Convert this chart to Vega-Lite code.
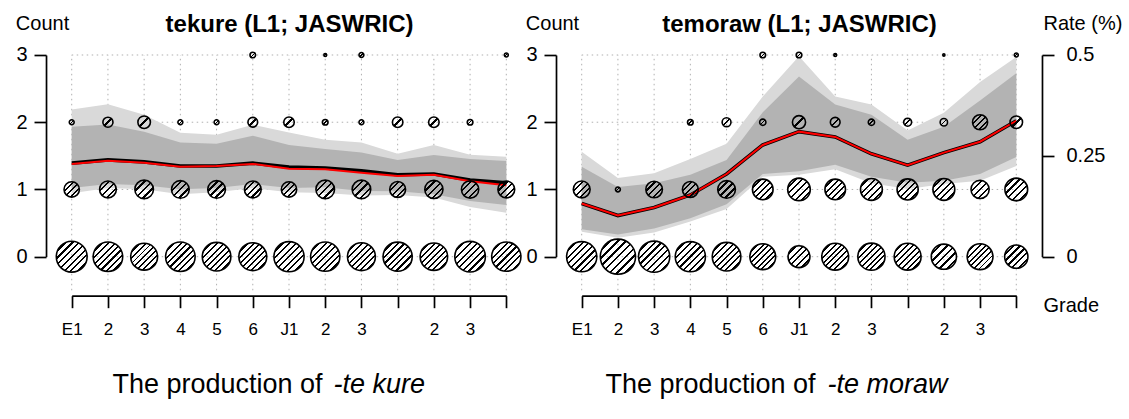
{
  "$schema": "https://vega.github.io/schema/vega-lite/v6.json",
  "background": "white",
  "padding": {"left": 15, "top": 13, "right": 5, "bottom": 8},
  "autosize": {"type": "pad"},
  "spacing": 24,
  "bounds": "flush",
  "config": {
    "view": {"stroke": null},
    "font": "Liberation Sans",
    "axis": {"grid": false, "labelFont": "Liberation Sans", "titleFont": "Liberation Sans", "labelColor": "black", "titleColor": "black", "domainColor": "black", "tickColor": "black"}
  },
  "datasets": {
    "grades": [{"grade": 1}, {"grade": 2}, {"grade": 3}, {"grade": 4}, {"grade": 5}, {"grade": 6}, {"grade": 7}, {"grade": 8}, {"grade": 9}, {"grade": 10}, {"grade": 11}, {"grade": 12}, {"grade": 13}],
    "counts": [{"count": 0}, {"count": 1}, {"count": 2}, {"count": 3}],
    "bubbles": [
      {"panel": "tekure", "grade": 1, "count": 0, "n": 121}, {"panel": "tekure", "grade": 1, "count": 1, "n": 30}, {"panel": "tekure", "grade": 1, "count": 2, "n": 3},
      {"panel": "tekure", "grade": 2, "count": 0, "n": 111}, {"panel": "tekure", "grade": 2, "count": 1, "n": 36}, {"panel": "tekure", "grade": 2, "count": 2, "n": 13},
      {"panel": "tekure", "grade": 3, "count": 0, "n": 92}, {"panel": "tekure", "grade": 3, "count": 1, "n": 44}, {"panel": "tekure", "grade": 3, "count": 2, "n": 20},
      {"panel": "tekure", "grade": 4, "count": 0, "n": 111}, {"panel": "tekure", "grade": 4, "count": 1, "n": 40}, {"panel": "tekure", "grade": 4, "count": 2, "n": 3},
      {"panel": "tekure", "grade": 5, "count": 0, "n": 104}, {"panel": "tekure", "grade": 5, "count": 1, "n": 40}, {"panel": "tekure", "grade": 5, "count": 2, "n": 3},
      {"panel": "tekure", "grade": 6, "count": 0, "n": 99}, {"panel": "tekure", "grade": 6, "count": 1, "n": 36}, {"panel": "tekure", "grade": 6, "count": 2, "n": 12}, {"panel": "tekure", "grade": 6, "count": 3, "n": 4},
      {"panel": "tekure", "grade": 7, "count": 0, "n": 116}, {"panel": "tekure", "grade": 7, "count": 1, "n": 30}, {"panel": "tekure", "grade": 7, "count": 2, "n": 14},
      {"panel": "tekure", "grade": 8, "count": 0, "n": 109}, {"panel": "tekure", "grade": 8, "count": 1, "n": 44}, {"panel": "tekure", "grade": 8, "count": 2, "n": 4}, {"panel": "tekure", "grade": 8, "count": 3, "n": 1},
      {"panel": "tekure", "grade": 9, "count": 0, "n": 99}, {"panel": "tekure", "grade": 9, "count": 1, "n": 44}, {"panel": "tekure", "grade": 9, "count": 2, "n": 3}, {"panel": "tekure", "grade": 9, "count": 3, "n": 3},
      {"panel": "tekure", "grade": 10, "count": 0, "n": 108}, {"panel": "tekure", "grade": 10, "count": 1, "n": 32}, {"panel": "tekure", "grade": 10, "count": 2, "n": 14},
      {"panel": "tekure", "grade": 11, "count": 0, "n": 96}, {"panel": "tekure", "grade": 11, "count": 1, "n": 42}, {"panel": "tekure", "grade": 11, "count": 2, "n": 14},
      {"panel": "tekure", "grade": 12, "count": 0, "n": 119}, {"panel": "tekure", "grade": 12, "count": 1, "n": 38}, {"panel": "tekure", "grade": 12, "count": 2, "n": 4},
      {"panel": "tekure", "grade": 13, "count": 0, "n": 109}, {"panel": "tekure", "grade": 13, "count": 1, "n": 36}, {"panel": "tekure", "grade": 13, "count": 3, "n": 2},
      {"panel": "temoraw", "grade": 1, "count": 0, "n": 116}, {"panel": "temoraw", "grade": 1, "count": 1, "n": 36},
      {"panel": "temoraw", "grade": 2, "count": 0, "n": 158}, {"panel": "temoraw", "grade": 2, "count": 1, "n": 3},
      {"panel": "temoraw", "grade": 3, "count": 0, "n": 124}, {"panel": "temoraw", "grade": 3, "count": 1, "n": 35},
      {"panel": "temoraw", "grade": 4, "count": 0, "n": 116}, {"panel": "temoraw", "grade": 4, "count": 1, "n": 32}, {"panel": "temoraw", "grade": 4, "count": 2, "n": 4},
      {"panel": "temoraw", "grade": 5, "count": 0, "n": 104}, {"panel": "temoraw", "grade": 5, "count": 1, "n": 40}, {"panel": "temoraw", "grade": 5, "count": 2, "n": 10},
      {"panel": "temoraw", "grade": 6, "count": 0, "n": 85}, {"panel": "temoraw", "grade": 6, "count": 1, "n": 54}, {"panel": "temoraw", "grade": 6, "count": 2, "n": 5}, {"panel": "temoraw", "grade": 6, "count": 3, "n": 4},
      {"panel": "temoraw", "grade": 7, "count": 0, "n": 61}, {"panel": "temoraw", "grade": 7, "count": 1, "n": 65}, {"panel": "temoraw", "grade": 7, "count": 2, "n": 22}, {"panel": "temoraw", "grade": 7, "count": 3, "n": 4},
      {"panel": "temoraw", "grade": 8, "count": 0, "n": 92}, {"panel": "temoraw", "grade": 8, "count": 1, "n": 54}, {"panel": "temoraw", "grade": 8, "count": 2, "n": 12}, {"panel": "temoraw", "grade": 8, "count": 3, "n": 1},
      {"panel": "temoraw", "grade": 9, "count": 0, "n": 94}, {"panel": "temoraw", "grade": 9, "count": 1, "n": 61}, {"panel": "temoraw", "grade": 9, "count": 2, "n": 5},
      {"panel": "temoraw", "grade": 10, "count": 0, "n": 92}, {"panel": "temoraw", "grade": 10, "count": 1, "n": 57}, {"panel": "temoraw", "grade": 10, "count": 2, "n": 8},
      {"panel": "temoraw", "grade": 11, "count": 0, "n": 81}, {"panel": "temoraw", "grade": 11, "count": 1, "n": 61}, {"panel": "temoraw", "grade": 11, "count": 2, "n": 7}, {"panel": "temoraw", "grade": 11, "count": 3, "n": 0.6},
      {"panel": "temoraw", "grade": 12, "count": 0, "n": 85}, {"panel": "temoraw", "grade": 12, "count": 1, "n": 42}, {"panel": "temoraw", "grade": 12, "count": 2, "n": 29},
      {"panel": "temoraw", "grade": 13, "count": 0, "n": 69}, {"panel": "temoraw", "grade": 13, "count": 1, "n": 66}, {"panel": "temoraw", "grade": 13, "count": 2, "n": 20}, {"panel": "temoraw", "grade": 13, "count": 3, "n": 2}
    ],
    "rates": [
      {"panel": "tekure", "grade": 1, "lu": 0.365, "du": 0.322, "dl": 0.170, "ll": 0.157, "black": 0.232, "red": 0.230},
      {"panel": "tekure", "grade": 2, "lu": 0.378, "du": 0.328, "dl": 0.180, "ll": 0.170, "black": 0.240, "red": 0.238},
      {"panel": "tekure", "grade": 3, "lu": 0.352, "du": 0.310, "dl": 0.177, "ll": 0.167, "black": 0.235, "red": 0.233},
      {"panel": "tekure", "grade": 4, "lu": 0.307, "du": 0.283, "dl": 0.167, "ll": 0.155, "black": 0.225, "red": 0.223},
      {"panel": "tekure", "grade": 5, "lu": 0.302, "du": 0.280, "dl": 0.170, "ll": 0.160, "black": 0.225, "red": 0.225},
      {"panel": "tekure", "grade": 6, "lu": 0.327, "du": 0.300, "dl": 0.180, "ll": 0.170, "black": 0.232, "red": 0.230},
      {"panel": "tekure", "grade": 7, "lu": 0.308, "du": 0.277, "dl": 0.170, "ll": 0.160, "black": 0.222, "red": 0.218},
      {"panel": "tekure", "grade": 8, "lu": 0.290, "du": 0.267, "dl": 0.172, "ll": 0.158, "black": 0.220, "red": 0.217},
      {"panel": "tekure", "grade": 9, "lu": 0.283, "du": 0.258, "dl": 0.163, "ll": 0.152, "black": 0.213, "red": 0.208},
      {"panel": "tekure", "grade": 10, "lu": 0.255, "du": 0.240, "dl": 0.162, "ll": 0.153, "black": 0.203, "red": 0.200},
      {"panel": "tekure", "grade": 11, "lu": 0.277, "du": 0.252, "dl": 0.155, "ll": 0.147, "black": 0.205, "red": 0.203},
      {"panel": "tekure", "grade": 12, "lu": 0.253, "du": 0.242, "dl": 0.138, "ll": 0.123, "black": 0.190, "red": 0.187},
      {"panel": "tekure", "grade": 13, "lu": 0.248, "du": 0.237, "dl": 0.128, "ll": 0.109, "black": 0.183, "red": 0.177},
      {"panel": "temoraw", "grade": 1, "lu": 0.260, "du": 0.223, "dl": 0.068, "ll": 0.062, "black": 0.132, "red": 0.132},
      {"panel": "temoraw", "grade": 2, "lu": 0.195, "du": 0.173, "dl": 0.055, "ll": 0.047, "black": 0.102, "red": 0.102},
      {"panel": "temoraw", "grade": 3, "lu": 0.207, "du": 0.182, "dl": 0.070, "ll": 0.060, "black": 0.122, "red": 0.122},
      {"panel": "temoraw", "grade": 4, "lu": 0.242, "du": 0.203, "dl": 0.095, "ll": 0.087, "black": 0.153, "red": 0.153},
      {"panel": "temoraw", "grade": 5, "lu": 0.280, "du": 0.240, "dl": 0.130, "ll": 0.118, "black": 0.205, "red": 0.205},
      {"panel": "temoraw", "grade": 6, "lu": 0.397, "du": 0.358, "dl": 0.205, "ll": 0.198, "black": 0.277, "red": 0.277},
      {"panel": "temoraw", "grade": 7, "lu": 0.497, "du": 0.447, "dl": 0.212, "ll": 0.203, "black": 0.310, "red": 0.310},
      {"panel": "temoraw", "grade": 8, "lu": 0.397, "du": 0.377, "dl": 0.228, "ll": 0.217, "black": 0.297, "red": 0.297},
      {"panel": "temoraw", "grade": 9, "lu": 0.377, "du": 0.352, "dl": 0.198, "ll": 0.182, "black": 0.255, "red": 0.255},
      {"panel": "temoraw", "grade": 10, "lu": 0.313, "du": 0.290, "dl": 0.183, "ll": 0.168, "black": 0.227, "red": 0.227},
      {"panel": "temoraw", "grade": 11, "lu": 0.357, "du": 0.322, "dl": 0.188, "ll": 0.180, "black": 0.258, "red": 0.258},
      {"panel": "temoraw", "grade": 12, "lu": 0.433, "du": 0.387, "dl": 0.205, "ll": 0.188, "black": 0.285, "red": 0.285},
      {"panel": "temoraw", "grade": 13, "lu": 0.495, "du": 0.455, "dl": 0.247, "ll": 0.225, "black": 0.337, "red": 0.337}
    ]
  },
  "hconcat": [
    {
      "width": 486, "height": 240.7,
      "resolve": {"scale": {"y": "independent"}, "axis": {"x": "independent", "y": "independent"}},
      "layer": [
        {
          "data": {"name": "grades"},
          "mark": {"type": "rule", "color": "#b0b0b0", "strokeWidth": 1, "strokeDash": [1.5, 3.5]},
          "encoding": {
            "x": {"field": "grade", "type": "quantitative", "scale": {"domain": [1, 13], "range": [25.7, 460.3], "nice": false, "zero": false},
              "axis": {"orient": "bottom", "values": [1,2,3,4,5,6,7,8,9,10,11,12,13], "labelExpr": "['E1','2','3','4','5','6','J1','2','3','','2','3',''][datum.value - 1]", "tickSize": 12, "tickWidth": 1.7, "domainWidth": 1.7, "labelFontSize": 17, "labelPadding": 14, "labelFlush": false, "labelOverlap": false, "labelBound": false, "title": null}},
            "y": {"datum": -0.5, "type": "quantitative", "scale": {"domain": [0, 3], "range": [201.7, 0], "nice": false, "zero": false},
              "axis": {"orient": "left", "values": [0, 1, 2, 3], "format": "d", "tickSize": 12, "tickWidth": 1.7, "domainWidth": 1.7, "labelFontSize": 20, "labelPadding": 7, "title": "Count", "titleAngle": 0, "titleX": -4, "titleY": -25, "titleAlign": "center", "titleBaseline": "alphabetic", "titleFontSize": 20, "titleFontWeight": "normal"}},
            "y2": {"datum": 3}
          }
        },
        {
          "data": {"name": "counts"},
          "mark": {"type": "rule", "color": "#b0b0b0", "strokeWidth": 1, "strokeDash": [1.5, 3.5]},
          "encoding": {
            "x": {"datum": 1, "type": "quantitative", "scale": {"domain": [1, 13], "range": [25.7, 460.3], "nice": false, "zero": false},
              "axis": {"orient": "top", "domain": false, "ticks": false, "labels": false, "title": "tekure (L1; JASWRIC)", "titleX": 243, "titleY": -23, "titleAlign": "center", "titleBaseline": "alphabetic", "titleFontSize": 24, "titleFontWeight": "bold"}},
            "x2": {"datum": 13},
            "y": {"field": "count", "type": "quantitative", "scale": {"domain": [0, 3], "range": [201.7, 0], "nice": false, "zero": false}, "axis": null}
          }
        },
        {
          "data": {"name": "rates"},
          "transform": [{"filter": "datum.panel == 'tekure'"}],
          "mark": {"type": "area", "color": "#d9d9d9", "opacity": 1},
          "encoding": {
            "x": {"field": "grade", "type": "quantitative", "scale": {"domain": [1, 13], "range": [25.7, 460.3], "nice": false, "zero": false},
              "axis": {"orient": "bottom", "domain": false, "ticks": false, "labels": false, "title": "The production of", "titleX": 276, "titleY": 97, "titleAlign": "right", "titleBaseline": "alphabetic", "titleFontSize": 27, "titleFontWeight": "normal"}},
            "y": {"field": "lu", "type": "quantitative", "scale": {"domain": [0, 0.5], "range": [201.7, 0], "nice": false, "zero": false}, "axis": null},
            "y2": {"field": "ll"}
          }
        },
        {
          "data": {"name": "rates"},
          "transform": [{"filter": "datum.panel == 'tekure'"}],
          "mark": {"type": "area", "color": "#b3b3b3", "opacity": 1},
          "encoding": {
            "x": {"field": "grade", "type": "quantitative", "scale": {"domain": [1, 13], "range": [25.7, 460.3], "nice": false, "zero": false},
              "axis": {"orient": "bottom", "domain": false, "ticks": false, "labels": false, "title": "-te kure", "titleX": 287, "titleY": 97, "titleAlign": "left", "titleBaseline": "alphabetic", "titleFontSize": 27, "titleFontWeight": "normal", "titleFontStyle": "italic"}},
            "y": {"field": "du", "type": "quantitative", "scale": {"domain": [0, 0.5], "range": [201.7, 0], "nice": false, "zero": false}, "axis": null},
            "y2": {"field": "dl"}
          }
        },
        {
          "data": {"name": "rates"},
          "transform": [{"filter": "datum.panel == 'tekure'"}],
          "mark": {"type": "line", "color": "black", "strokeWidth": 3.6},
          "encoding": {
            "x": {"field": "grade", "type": "quantitative", "scale": {"domain": [1, 13], "range": [25.7, 460.3], "nice": false, "zero": false}, "axis": null},
            "y": {"field": "black", "type": "quantitative", "scale": {"domain": [0, 0.5], "range": [201.7, 0], "nice": false, "zero": false}, "axis": null}
          }
        },
        {
          "data": {"name": "rates"},
          "transform": [{"filter": "datum.panel == 'tekure'"}],
          "mark": {"type": "line", "color": "#ff0000", "strokeWidth": 2},
          "encoding": {
            "x": {"field": "grade", "type": "quantitative", "scale": {"domain": [1, 13], "range": [25.7, 460.3], "nice": false, "zero": false}, "axis": null},
            "y": {"field": "red", "type": "quantitative", "scale": {"domain": [0, 0.5], "range": [201.7, 0], "nice": false, "zero": false}, "axis": null}
          }
        },
        {
          "data": {"name": "bubbles"},
          "transform": [{"filter": "datum.panel == 'tekure' && datum.n >= 85"}],
          "mark": {"type": "point", "shape": "circle", "filled": true, "opacity": 1, "stroke": "black", "strokeWidth": 1.6,
            "fill": {"gradient": "linear", "x1": 0, "y1": 0, "x2": 1, "y2": 1, "stops": [
              {"offset": 0, "color": "rgba(0,0,0,0)"},
              {"offset": 0.155, "color": "rgba(0,0,0,0)"}, {"offset": 0.155, "color": "#000"}, {"offset": 0.191, "color": "#000"}, {"offset": 0.191, "color": "rgba(0,0,0,0)"},
              {"offset": 0.264, "color": "rgba(0,0,0,0)"}, {"offset": 0.264, "color": "#000"}, {"offset": 0.300, "color": "#000"}, {"offset": 0.300, "color": "rgba(0,0,0,0)"},
              {"offset": 0.373, "color": "rgba(0,0,0,0)"}, {"offset": 0.373, "color": "#000"}, {"offset": 0.409, "color": "#000"}, {"offset": 0.409, "color": "rgba(0,0,0,0)"},
              {"offset": 0.482, "color": "rgba(0,0,0,0)"}, {"offset": 0.482, "color": "#000"}, {"offset": 0.518, "color": "#000"}, {"offset": 0.518, "color": "rgba(0,0,0,0)"},
              {"offset": 0.591, "color": "rgba(0,0,0,0)"}, {"offset": 0.591, "color": "#000"}, {"offset": 0.627, "color": "#000"}, {"offset": 0.627, "color": "rgba(0,0,0,0)"},
              {"offset": 0.700, "color": "rgba(0,0,0,0)"}, {"offset": 0.700, "color": "#000"}, {"offset": 0.736, "color": "#000"}, {"offset": 0.736, "color": "rgba(0,0,0,0)"},
              {"offset": 0.809, "color": "rgba(0,0,0,0)"}, {"offset": 0.809, "color": "#000"}, {"offset": 0.845, "color": "#000"}, {"offset": 0.845, "color": "rgba(0,0,0,0)"},
              {"offset": 1, "color": "rgba(0,0,0,0)"}]}},
          "encoding": {
            "x": {"field": "grade", "type": "quantitative", "scale": {"domain": [1, 13], "range": [25.7, 460.3], "nice": false, "zero": false}, "axis": null},
            "y": {"field": "count", "type": "quantitative", "scale": {"domain": [0, 3], "range": [201.7, 0], "nice": false, "zero": false}, "axis": null},
            "size": {"field": "n", "type": "quantitative", "scale": {"domain": [0, 160], "range": [0, 1254.4]}, "legend": null}
          }
        },
        {
          "data": {"name": "bubbles"},
          "transform": [{"filter": "datum.panel == 'tekure' && datum.n >= 50 && datum.n < 85"}],
          "mark": {"type": "point", "shape": "circle", "filled": true, "opacity": 1, "stroke": "black", "strokeWidth": 1.6,
            "fill": {"gradient": "linear", "x1": 0, "y1": 0, "x2": 1, "y2": 1, "stops": [
              {"offset": 0, "color": "rgba(0,0,0,0)"},
              {"offset": 0.180, "color": "rgba(0,0,0,0)"}, {"offset": 0.180, "color": "#000"}, {"offset": 0.228, "color": "#000"}, {"offset": 0.228, "color": "rgba(0,0,0,0)"},
              {"offset": 0.328, "color": "rgba(0,0,0,0)"}, {"offset": 0.328, "color": "#000"}, {"offset": 0.376, "color": "#000"}, {"offset": 0.376, "color": "rgba(0,0,0,0)"},
              {"offset": 0.476, "color": "rgba(0,0,0,0)"}, {"offset": 0.476, "color": "#000"}, {"offset": 0.524, "color": "#000"}, {"offset": 0.524, "color": "rgba(0,0,0,0)"},
              {"offset": 0.624, "color": "rgba(0,0,0,0)"}, {"offset": 0.624, "color": "#000"}, {"offset": 0.672, "color": "#000"}, {"offset": 0.672, "color": "rgba(0,0,0,0)"},
              {"offset": 0.772, "color": "rgba(0,0,0,0)"}, {"offset": 0.772, "color": "#000"}, {"offset": 0.820, "color": "#000"}, {"offset": 0.820, "color": "rgba(0,0,0,0)"},
              {"offset": 1, "color": "rgba(0,0,0,0)"}]}},
          "encoding": {
            "x": {"field": "grade", "type": "quantitative", "scale": {"domain": [1, 13], "range": [25.7, 460.3], "nice": false, "zero": false}, "axis": null},
            "y": {"field": "count", "type": "quantitative", "scale": {"domain": [0, 3], "range": [201.7, 0], "nice": false, "zero": false}, "axis": null},
            "size": {"field": "n", "type": "quantitative", "scale": {"domain": [0, 160], "range": [0, 1254.4]}, "legend": null}
          }
        },
        {
          "data": {"name": "bubbles"},
          "transform": [{"filter": "datum.panel == 'tekure' && datum.n >= 25 && datum.n < 50"}],
          "mark": {"type": "point", "shape": "circle", "filled": true, "opacity": 1, "stroke": "black", "strokeWidth": 1.6,
            "fill": {"gradient": "linear", "x1": 0, "y1": 0, "x2": 1, "y2": 1, "stops": [
              {"offset": 0, "color": "rgba(0,0,0,0)"},
              {"offset": 0.268, "color": "rgba(0,0,0,0)"}, {"offset": 0.268, "color": "#000"}, {"offset": 0.332, "color": "#000"}, {"offset": 0.332, "color": "rgba(0,0,0,0)"},
              {"offset": 0.468, "color": "rgba(0,0,0,0)"}, {"offset": 0.468, "color": "#000"}, {"offset": 0.532, "color": "#000"}, {"offset": 0.532, "color": "rgba(0,0,0,0)"},
              {"offset": 0.668, "color": "rgba(0,0,0,0)"}, {"offset": 0.668, "color": "#000"}, {"offset": 0.732, "color": "#000"}, {"offset": 0.732, "color": "rgba(0,0,0,0)"},
              {"offset": 1, "color": "rgba(0,0,0,0)"}]}},
          "encoding": {
            "x": {"field": "grade", "type": "quantitative", "scale": {"domain": [1, 13], "range": [25.7, 460.3], "nice": false, "zero": false}, "axis": null},
            "y": {"field": "count", "type": "quantitative", "scale": {"domain": [0, 3], "range": [201.7, 0], "nice": false, "zero": false}, "axis": null},
            "size": {"field": "n", "type": "quantitative", "scale": {"domain": [0, 160], "range": [0, 1254.4]}, "legend": null}
          }
        },
        {
          "data": {"name": "bubbles"},
          "transform": [{"filter": "datum.panel == 'tekure' && datum.n < 25"}],
          "mark": {"type": "point", "shape": "circle", "filled": true, "opacity": 1, "stroke": "black", "strokeWidth": 1.6,
            "fill": {"gradient": "linear", "x1": 0, "y1": 0, "x2": 1, "y2": 1, "stops": [
              {"offset": 0, "color": "rgba(0,0,0,0)"},
              {"offset": 0.44, "color": "rgba(0,0,0,0)"}, {"offset": 0.44, "color": "#000"}, {"offset": 0.56, "color": "#000"}, {"offset": 0.56, "color": "rgba(0,0,0,0)"},
              {"offset": 1, "color": "rgba(0,0,0,0)"}]}},
          "encoding": {
            "x": {"field": "grade", "type": "quantitative", "scale": {"domain": [1, 13], "range": [25.7, 460.3], "nice": false, "zero": false}, "axis": null},
            "y": {"field": "count", "type": "quantitative", "scale": {"domain": [0, 3], "range": [201.7, 0], "nice": false, "zero": false}, "axis": null},
            "size": {"field": "n", "type": "quantitative", "scale": {"domain": [0, 160], "range": [0, 1254.4]}, "legend": null}
          }
        }
      ]
    },
    {
      "width": 486, "height": 240.7,
      "resolve": {"scale": {"y": "independent"}, "axis": {"x": "independent", "y": "independent"}},
      "layer": [
        {
          "data": {"name": "grades"},
          "mark": {"type": "rule", "color": "#b0b0b0", "strokeWidth": 1, "strokeDash": [1.5, 3.5]},
          "encoding": {
            "x": {"field": "grade", "type": "quantitative", "scale": {"domain": [1, 13], "range": [25.7, 460.3], "nice": false, "zero": false},
              "axis": {"orient": "bottom", "values": [1,2,3,4,5,6,7,8,9,10,11,12,13], "labelExpr": "['E1','2','3','4','5','6','J1','2','3','','2','3',''][datum.value - 1]", "tickSize": 12, "tickWidth": 1.7, "domainWidth": 1.7, "labelFontSize": 17, "labelPadding": 14, "labelFlush": false, "labelOverlap": false, "labelBound": false,
                "title": "Grade", "titleX": 487, "titleY": 16, "titleAlign": "left", "titleBaseline": "alphabetic", "titleFontSize": 20, "titleFontWeight": "normal"}},
            "y": {"datum": -0.5, "type": "quantitative", "scale": {"domain": [0, 3], "range": [201.7, 0], "nice": false, "zero": false},
              "axis": {"orient": "left", "values": [0, 1, 2, 3], "format": "d", "tickSize": 12, "tickWidth": 1.7, "domainWidth": 1.7, "labelFontSize": 20, "labelPadding": 7, "title": "Count", "titleAngle": 0, "titleX": -4, "titleY": -25, "titleAlign": "center", "titleBaseline": "alphabetic", "titleFontSize": 20, "titleFontWeight": "normal"}},
            "y2": {"datum": 3}
          }
        },
        {
          "data": {"name": "counts"},
          "mark": {"type": "rule", "color": "#b0b0b0", "strokeWidth": 1, "strokeDash": [1.5, 3.5]},
          "encoding": {
            "x": {"datum": 1, "type": "quantitative", "scale": {"domain": [1, 13], "range": [25.7, 460.3], "nice": false, "zero": false},
              "axis": {"orient": "top", "domain": false, "ticks": false, "labels": false, "title": "temoraw (L1; JASWRIC)", "titleX": 243, "titleY": -23, "titleAlign": "center", "titleBaseline": "alphabetic", "titleFontSize": 24, "titleFontWeight": "bold"}},
            "x2": {"datum": 13},
            "y": {"field": "count", "type": "quantitative", "scale": {"domain": [0, 3], "range": [201.7, 0], "nice": false, "zero": false}, "axis": null}
          }
        },
        {
          "data": {"name": "rates"},
          "transform": [{"filter": "datum.panel == 'temoraw'"}],
          "mark": {"type": "area", "color": "#d9d9d9", "opacity": 1},
          "encoding": {
            "x": {"field": "grade", "type": "quantitative", "scale": {"domain": [1, 13], "range": [25.7, 460.3], "nice": false, "zero": false},
              "axis": {"orient": "bottom", "domain": false, "ticks": false, "labels": false, "title": "The production of", "titleX": 259, "titleY": 97, "titleAlign": "right", "titleBaseline": "alphabetic", "titleFontSize": 27, "titleFontWeight": "normal"}},
            "y": {"field": "lu", "type": "quantitative", "scale": {"domain": [0, 0.5], "range": [201.7, 0], "nice": false, "zero": false},
              "axis": {"orient": "right", "values": [0, 0.25, 0.5], "labelExpr": "datum.value == 0.25 ? '0.25' : datum.value == 0.5 ? '0.5' : '0'", "tickSize": 12, "tickWidth": 1.7, "domainWidth": 1.7, "labelFontSize": 20, "labelPadding": 12, "title": "Rate (%)", "titleAngle": 0, "titleX": 1, "titleY": -25, "titleAlign": "left", "titleBaseline": "alphabetic", "titleFontSize": 20, "titleFontWeight": "normal"}},
            "y2": {"field": "ll"}
          }
        },
        {
          "data": {"name": "rates"},
          "transform": [{"filter": "datum.panel == 'temoraw'"}],
          "mark": {"type": "area", "color": "#b3b3b3", "opacity": 1},
          "encoding": {
            "x": {"field": "grade", "type": "quantitative", "scale": {"domain": [1, 13], "range": [25.7, 460.3], "nice": false, "zero": false},
              "axis": {"orient": "bottom", "domain": false, "ticks": false, "labels": false, "title": "-te moraw", "titleX": 271, "titleY": 97, "titleAlign": "left", "titleBaseline": "alphabetic", "titleFontSize": 27, "titleFontWeight": "normal", "titleFontStyle": "italic"}},
            "y": {"field": "du", "type": "quantitative", "scale": {"domain": [0, 0.5], "range": [201.7, 0], "nice": false, "zero": false}, "axis": null},
            "y2": {"field": "dl"}
          }
        },
        {
          "data": {"name": "rates"},
          "transform": [{"filter": "datum.panel == 'temoraw'"}],
          "mark": {"type": "line", "color": "black", "strokeWidth": 3.6},
          "encoding": {
            "x": {"field": "grade", "type": "quantitative", "scale": {"domain": [1, 13], "range": [25.7, 460.3], "nice": false, "zero": false}, "axis": null},
            "y": {"field": "black", "type": "quantitative", "scale": {"domain": [0, 0.5], "range": [201.7, 0], "nice": false, "zero": false}, "axis": null}
          }
        },
        {
          "data": {"name": "rates"},
          "transform": [{"filter": "datum.panel == 'temoraw'"}],
          "mark": {"type": "line", "color": "#ff0000", "strokeWidth": 2},
          "encoding": {
            "x": {"field": "grade", "type": "quantitative", "scale": {"domain": [1, 13], "range": [25.7, 460.3], "nice": false, "zero": false}, "axis": null},
            "y": {"field": "red", "type": "quantitative", "scale": {"domain": [0, 0.5], "range": [201.7, 0], "nice": false, "zero": false}, "axis": null}
          }
        },
        {
          "data": {"name": "bubbles"},
          "transform": [{"filter": "datum.panel == 'temoraw' && datum.n >= 85"}],
          "mark": {"type": "point", "shape": "circle", "filled": true, "opacity": 1, "stroke": "black", "strokeWidth": 1.6,
            "fill": {"gradient": "linear", "x1": 0, "y1": 0, "x2": 1, "y2": 1, "stops": [
              {"offset": 0, "color": "rgba(0,0,0,0)"},
              {"offset": 0.155, "color": "rgba(0,0,0,0)"}, {"offset": 0.155, "color": "#000"}, {"offset": 0.191, "color": "#000"}, {"offset": 0.191, "color": "rgba(0,0,0,0)"},
              {"offset": 0.264, "color": "rgba(0,0,0,0)"}, {"offset": 0.264, "color": "#000"}, {"offset": 0.300, "color": "#000"}, {"offset": 0.300, "color": "rgba(0,0,0,0)"},
              {"offset": 0.373, "color": "rgba(0,0,0,0)"}, {"offset": 0.373, "color": "#000"}, {"offset": 0.409, "color": "#000"}, {"offset": 0.409, "color": "rgba(0,0,0,0)"},
              {"offset": 0.482, "color": "rgba(0,0,0,0)"}, {"offset": 0.482, "color": "#000"}, {"offset": 0.518, "color": "#000"}, {"offset": 0.518, "color": "rgba(0,0,0,0)"},
              {"offset": 0.591, "color": "rgba(0,0,0,0)"}, {"offset": 0.591, "color": "#000"}, {"offset": 0.627, "color": "#000"}, {"offset": 0.627, "color": "rgba(0,0,0,0)"},
              {"offset": 0.700, "color": "rgba(0,0,0,0)"}, {"offset": 0.700, "color": "#000"}, {"offset": 0.736, "color": "#000"}, {"offset": 0.736, "color": "rgba(0,0,0,0)"},
              {"offset": 0.809, "color": "rgba(0,0,0,0)"}, {"offset": 0.809, "color": "#000"}, {"offset": 0.845, "color": "#000"}, {"offset": 0.845, "color": "rgba(0,0,0,0)"},
              {"offset": 1, "color": "rgba(0,0,0,0)"}]}},
          "encoding": {
            "x": {"field": "grade", "type": "quantitative", "scale": {"domain": [1, 13], "range": [25.7, 460.3], "nice": false, "zero": false}, "axis": null},
            "y": {"field": "count", "type": "quantitative", "scale": {"domain": [0, 3], "range": [201.7, 0], "nice": false, "zero": false}, "axis": null},
            "size": {"field": "n", "type": "quantitative", "scale": {"domain": [0, 160], "range": [0, 1254.4]}, "legend": null}
          }
        },
        {
          "data": {"name": "bubbles"},
          "transform": [{"filter": "datum.panel == 'temoraw' && datum.n >= 50 && datum.n < 85"}],
          "mark": {"type": "point", "shape": "circle", "filled": true, "opacity": 1, "stroke": "black", "strokeWidth": 1.6,
            "fill": {"gradient": "linear", "x1": 0, "y1": 0, "x2": 1, "y2": 1, "stops": [
              {"offset": 0, "color": "rgba(0,0,0,0)"},
              {"offset": 0.180, "color": "rgba(0,0,0,0)"}, {"offset": 0.180, "color": "#000"}, {"offset": 0.228, "color": "#000"}, {"offset": 0.228, "color": "rgba(0,0,0,0)"},
              {"offset": 0.328, "color": "rgba(0,0,0,0)"}, {"offset": 0.328, "color": "#000"}, {"offset": 0.376, "color": "#000"}, {"offset": 0.376, "color": "rgba(0,0,0,0)"},
              {"offset": 0.476, "color": "rgba(0,0,0,0)"}, {"offset": 0.476, "color": "#000"}, {"offset": 0.524, "color": "#000"}, {"offset": 0.524, "color": "rgba(0,0,0,0)"},
              {"offset": 0.624, "color": "rgba(0,0,0,0)"}, {"offset": 0.624, "color": "#000"}, {"offset": 0.672, "color": "#000"}, {"offset": 0.672, "color": "rgba(0,0,0,0)"},
              {"offset": 0.772, "color": "rgba(0,0,0,0)"}, {"offset": 0.772, "color": "#000"}, {"offset": 0.820, "color": "#000"}, {"offset": 0.820, "color": "rgba(0,0,0,0)"},
              {"offset": 1, "color": "rgba(0,0,0,0)"}]}},
          "encoding": {
            "x": {"field": "grade", "type": "quantitative", "scale": {"domain": [1, 13], "range": [25.7, 460.3], "nice": false, "zero": false}, "axis": null},
            "y": {"field": "count", "type": "quantitative", "scale": {"domain": [0, 3], "range": [201.7, 0], "nice": false, "zero": false}, "axis": null},
            "size": {"field": "n", "type": "quantitative", "scale": {"domain": [0, 160], "range": [0, 1254.4]}, "legend": null}
          }
        },
        {
          "data": {"name": "bubbles"},
          "transform": [{"filter": "datum.panel == 'temoraw' && datum.n >= 25 && datum.n < 50"}],
          "mark": {"type": "point", "shape": "circle", "filled": true, "opacity": 1, "stroke": "black", "strokeWidth": 1.6,
            "fill": {"gradient": "linear", "x1": 0, "y1": 0, "x2": 1, "y2": 1, "stops": [
              {"offset": 0, "color": "rgba(0,0,0,0)"},
              {"offset": 0.268, "color": "rgba(0,0,0,0)"}, {"offset": 0.268, "color": "#000"}, {"offset": 0.332, "color": "#000"}, {"offset": 0.332, "color": "rgba(0,0,0,0)"},
              {"offset": 0.468, "color": "rgba(0,0,0,0)"}, {"offset": 0.468, "color": "#000"}, {"offset": 0.532, "color": "#000"}, {"offset": 0.532, "color": "rgba(0,0,0,0)"},
              {"offset": 0.668, "color": "rgba(0,0,0,0)"}, {"offset": 0.668, "color": "#000"}, {"offset": 0.732, "color": "#000"}, {"offset": 0.732, "color": "rgba(0,0,0,0)"},
              {"offset": 1, "color": "rgba(0,0,0,0)"}]}},
          "encoding": {
            "x": {"field": "grade", "type": "quantitative", "scale": {"domain": [1, 13], "range": [25.7, 460.3], "nice": false, "zero": false}, "axis": null},
            "y": {"field": "count", "type": "quantitative", "scale": {"domain": [0, 3], "range": [201.7, 0], "nice": false, "zero": false}, "axis": null},
            "size": {"field": "n", "type": "quantitative", "scale": {"domain": [0, 160], "range": [0, 1254.4]}, "legend": null}
          }
        },
        {
          "data": {"name": "bubbles"},
          "transform": [{"filter": "datum.panel == 'temoraw' && datum.n < 25"}],
          "mark": {"type": "point", "shape": "circle", "filled": true, "opacity": 1, "stroke": "black", "strokeWidth": 1.6,
            "fill": {"gradient": "linear", "x1": 0, "y1": 0, "x2": 1, "y2": 1, "stops": [
              {"offset": 0, "color": "rgba(0,0,0,0)"},
              {"offset": 0.44, "color": "rgba(0,0,0,0)"}, {"offset": 0.44, "color": "#000"}, {"offset": 0.56, "color": "#000"}, {"offset": 0.56, "color": "rgba(0,0,0,0)"},
              {"offset": 1, "color": "rgba(0,0,0,0)"}]}},
          "encoding": {
            "x": {"field": "grade", "type": "quantitative", "scale": {"domain": [1, 13], "range": [25.7, 460.3], "nice": false, "zero": false}, "axis": null},
            "y": {"field": "count", "type": "quantitative", "scale": {"domain": [0, 3], "range": [201.7, 0], "nice": false, "zero": false}, "axis": null},
            "size": {"field": "n", "type": "quantitative", "scale": {"domain": [0, 160], "range": [0, 1254.4]}, "legend": null}
          }
        }
      ]
    }
  ]
}
